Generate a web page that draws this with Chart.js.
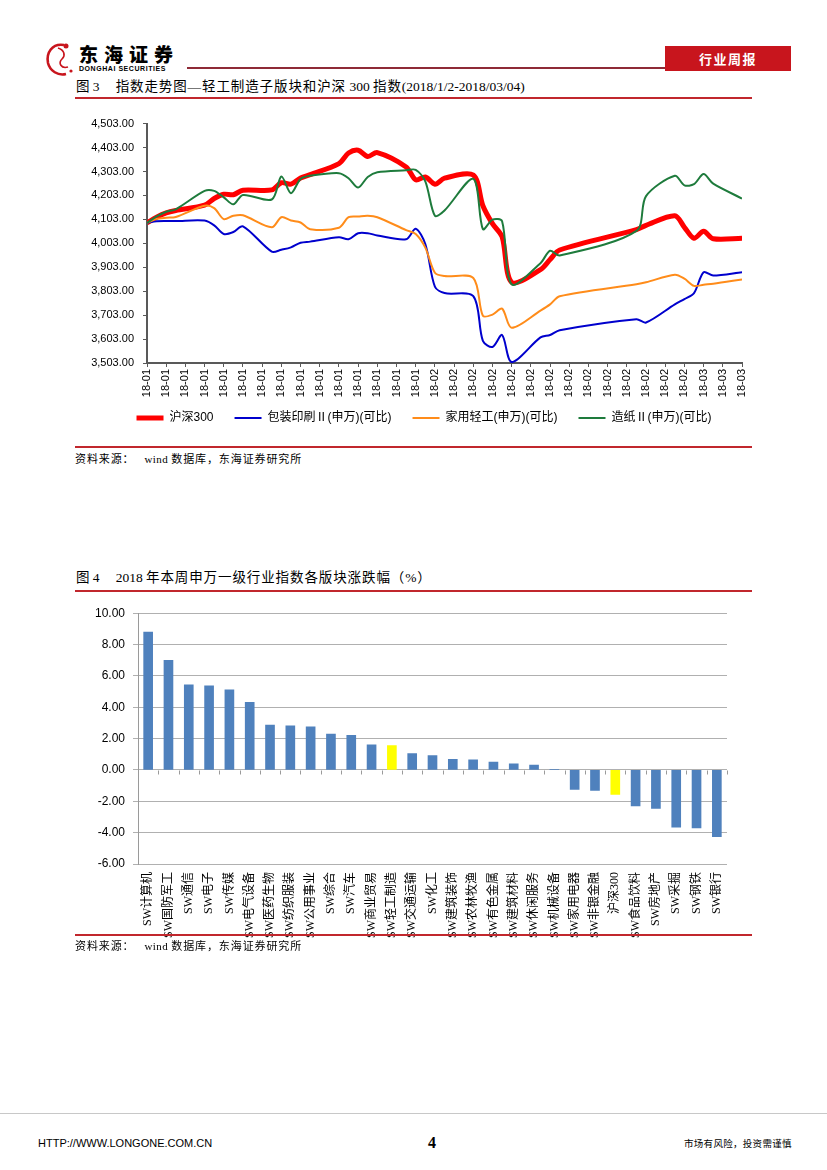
<!DOCTYPE html>
<html><head><meta charset="utf-8">
<script src="https://cdn.jsdelivr.net/npm/chart.js@4.4.1/dist/chart.umd.min.js"></script>
<style>
html,body{margin:0;padding:0;background:#fff;}
body{width:827px;height:1170px;position:relative;overflow:hidden;font-family:"Liberation Serif","Noto Sans CJK SC",serif;color:#000;}
.abs{position:absolute;white-space:nowrap;line-height:1;}
.cjk{letter-spacing:0.9px;}
.title{font-size:13.5px;}
.src{font-size:11px;letter-spacing:0.4px;}
.redline{position:absolute;left:75px;width:677px;height:2px;background:#C1272D;}
</style></head><body>

<svg class="abs" style="left:44px;top:41px" width="34" height="36" viewBox="0 0 34 36">
<path d="M20 4 C8 2 2 12 4 22 C6 30 14 35 22 33" fill="none" stroke="#C8151D" stroke-width="2.6"/>
<path d="M14 7 C20 9 22 14 18 18 C14 22 17 28 24 26" fill="none" stroke="#C8151D" stroke-width="1.6"/>
<circle cx="22" cy="5" r="2.5" fill="#C8151D"/>
<circle cx="27" cy="30" r="1.6" fill="#C8151D"/>
</svg>
<div class="abs" style="left:79px;top:44px;font-family:'Noto Sans CJK SC';font-weight:900;font-size:19px;letter-spacing:6px;">东海证券</div>
<div class="abs" style="left:79px;top:65px;font-family:'Liberation Sans';font-weight:bold;font-size:7px;letter-spacing:0.55px;">DONGHAI SECURITIES</div>
<div class="abs" style="left:187px;top:67px;width:478px;height:1.5px;background:#8E2A36;"></div>
<div class="abs" style="left:665px;top:46px;width:126px;height:25px;background:#C8151D;color:#fff;font-family:'Noto Sans CJK SC';font-weight:bold;font-size:13px;line-height:25px;text-align:center;letter-spacing:1.5px;">行业周报</div>

<div class="abs title" style="left:76px;top:80px;">图 3<span class="cjk" style="margin-left:16px;">指数走势图—轻工制造子版块和沪深</span> 300 <span class="cjk">指数</span>(2018/1/2-2018/03/04)</div>
<div class="redline" style="top:97px;"></div>

<div class="abs" style="left:70px;top:108px;"><canvas id="c1" width="714" height="326" style="width:714px;height:326px;"></canvas></div>

<div class="redline" style="top:446px;"></div>
<div class="abs src" style="left:75px;top:454px;"><span class="cjk">资料来源：</span><span style="margin-left:10px;">wind <span class="cjk">数据库，东海证券研究所</span></span></div>

<div class="abs title" style="left:76px;top:571px;">图 4<span style="margin-left:16px;">2018 </span><span class="cjk">年本周申万一级行业指数各版块涨跌幅（%）</span></div>
<div class="redline" style="top:590px;"></div>

<div class="abs" style="left:60px;top:598px;"><canvas id="c2" width="690" height="340" style="width:690px;height:340px;"></canvas></div>

<div class="redline" style="top:934px;"></div>
<div class="abs src" style="left:75px;top:941px;"><span class="cjk">资料来源：</span><span style="margin-left:10px;">wind <span class="cjk">数据库，东海证券研究所</span></span></div>

<div class="abs" style="left:0;top:1113px;width:827px;height:1px;background:#C8C8C8;"></div>
<div class="abs" style="left:38px;top:1138px;font-family:'Liberation Sans Narrow','Liberation Sans';font-size:11px;">HTTP://WWW.LONGONE.COM.CN</div>
<div class="abs" style="left:428px;top:1135px;font-family:'Liberation Serif';font-weight:bold;font-size:16px;">4</div>
<div class="abs" style="left:684px;top:1139px;font-family:'Noto Sans CJK SC';font-size:9.5px;letter-spacing:0.3px;">市场有风险，投资需谨慎</div>

<script>
// ---------- Chart 1 data ----------
const tradeDates = ['2018-01-02','2018-01-03','2018-01-04','2018-01-05','2018-01-08','2018-01-09','2018-01-10','2018-01-11','2018-01-12','2018-01-15','2018-01-16','2018-01-17','2018-01-18','2018-01-19','2018-01-22','2018-01-23','2018-01-24','2018-01-25','2018-01-26','2018-01-29','2018-01-30','2018-01-31','2018-02-01','2018-02-02','2018-02-05','2018-02-06','2018-02-07','2018-02-08','2018-02-09','2018-02-12','2018-02-13','2018-02-14','2018-02-22','2018-02-23','2018-02-26','2018-02-27','2018-02-28','2018-03-01','2018-03-02','2018-03-05'];
const hs300     = [4088,4112,4130,4140,4162,4190,4208,4206,4225,4226,4256,4250,4276,4290,4336,4380,4392,4366,4382,4322,4268,4280,4250,4275,4288,4160,4085,4030,3840,3893,3935,3975,4060,4078,4118,4070,4024,4053,4022,4024];
const baozhuang = [4088,4095,4096,4096,4098,4078,4042,4050,4074,3968,3976,3986,4005,4010,4028,4020,4045,4045,4036,4020,4064,4000,3822,3795,3782,3595,3570,3620,3507,3610,3620,3640,3686,3672,3748,3770,3795,3882,3868,3882];
const jiayong   = [4088,4105,4110,4113,4160,4150,4104,4118,4120,4070,4112,4098,4090,4062,4068,4112,4115,4118,4112,4058,4042,3985,3880,3866,3858,3700,3705,3730,3650,3722,3748,3782,3832,3840,3872,3855,3825,3830,3834,3852];
const zaozhi    = [4088,4115,4135,4145,4222,4222,4195,4166,4205,4186,4282,4212,4272,4285,4296,4275,4236,4280,4300,4308,4310,4262,4118,4140,4272,4062,4102,4095,3832,3920,3972,3952,4055,4200,4285,4245,4250,4292,4252,4190];
const seriesNames = ['沪深300','包装印刷Ⅱ(申万)(可比)','家用轻工(申万)(可比)','造纸Ⅱ(申万)(可比)'];
const yTicks1 = [3503,3603,3703,3803,3903,4003,4103,4203,4303,4403,4503];

// ---------- Chart 2 data ----------
const sectors = ['SW计算机','SW国防军工','SW通信','SW电子','SW传媒','SW电气设备','SW医药生物','SW纺织服装','SW公用事业','SW综合','SW汽车','SW商业贸易','SW轻工制造','SW交通运输','SW化工','SW建筑装饰','SW农林牧渔','SW有色金属','SW建筑材料','SW休闲服务','SW机械设备','SW家用电器','SW非银金融','沪深300','SW食品饮料','SW房地产','SW采掘','SW钢铁','SW银行'];
const changes = [8.80,7.00,5.43,5.37,5.11,4.31,2.87,2.81,2.75,2.29,2.21,1.60,1.55,1.04,0.92,0.67,0.65,0.51,0.39,0.31,0.04,-1.25,-1.31,-1.56,-2.30,-2.46,-3.65,-3.70,-4.25];
const highlighted = ['SW轻工制造','沪深300'];
const yTicks2 = [-6,-4,-2,0,2,4,6,8,10];

// ---------- helpers ----------
const DAY = 86400000;
const base = Date.UTC(2018,0,2);
const dayIdx = d => Math.round((Date.parse(d + 'T00:00:00Z') - base) / DAY);
const pts = arr => arr.map((v, i) => ({x: dayIdx(tradeDates[i]), y: v}));
const lastDay = 62;
const xTickDays = [];
for (let d = 0; d <= lastDay; d += 2) xTickDays.push(d);

const sans = '"Liberation Sans","Noto Sans CJK SC",sans-serif';
Chart.defaults.font.family = sans;
Chart.defaults.color = '#000';

const mk = (label, data, color, w, order) => ({
  label, data: pts(data), borderColor: color, backgroundColor: color,
  borderWidth: w, pointRadius: 0, pointStyle: 'line', tension: 0.3, fill: false, order,
  yAxisID: 'y'
});

new Chart(document.getElementById('c1'), {
  type: 'line',
  data: {datasets: [
    mk(seriesNames[0], hs300, '#FF0000', 5, 3),
    mk(seriesNames[1], baozhuang, '#0000CD', 2, 2),
    mk(seriesNames[2], jiayong, '#FF8C1A', 2, 1),
    mk(seriesNames[3], zaozhi, '#1E7B3C', 2, 0)
  ]},
  options: {
    responsive: false, animation: false, events: [],
    layout: {padding: {left: 0, right: 0, top: 13, bottom: 0}},
    plugins: {
      tooltip: {enabled: false},
      legend: {position: 'bottom', labels: {
        usePointStyle: true, pointStyle: 'line', pointStyleWidth: 27, padding: 15,
        font: {size: 12, family: sans}, color: '#000',
        sort: (a, b) => a.datasetIndex - b.datasetIndex,
        generateLabels: chart => Chart.defaults.plugins.legend.labels.generateLabels(chart)
          .map(l => Object.assign(l, {text: l.text + '\u2002'}))
      }}
    },
    scales: {
      x: {
        type: 'linear', min: 0, max: lastDay,
        afterFit: s => { s.height = 34; },
        afterBuildTicks: s => { s.ticks = xTickDays.map(v => ({value: v})); },
        ticks: {autoSkip: false, minRotation: 90, maxRotation: 90, padding: 2,
          font: {size: 11, family: sans}, color: '#000',
          callback: v => { const d = new Date(base + v * DAY); return '18-' + String(d.getUTCMonth() + 1).padStart(2, '0'); }},
        grid: {display: true, drawOnChartArea: false, drawTicks: true, tickLength: 4, color: '#595959'},
        border: {display: true, color: '#595959', width: 2}
      },
      y: {
        position: 'left', min: 3503, max: 4503,
        afterFit: s => { s.width = 77; },
        afterBuildTicks: s => { s.ticks = yTicks1.map(v => ({value: v})); },
        ticks: {padding: 9, font: {size: 11, family: sans}, color: '#000',
          callback: v => v.toLocaleString('en-US', {minimumFractionDigits: 2, maximumFractionDigits: 2})},
        grid: {display: true, drawOnChartArea: false, drawTicks: true, tickLength: 4, color: '#595959'},
        border: {display: true, color: '#595959', width: 2}
      },
      yRightSpace: {
        type: 'linear', position: 'right', display: true, min: 0, max: 1,
        afterFit: s => { s.width = 42; },
        ticks: {display: false}, grid: {display: false}, border: {display: false}
      }
    }
  }
});

const zeroTicks = {
  id: 'zeroTicks',
  afterDatasetsDraw(chart) {
    const xs = chart.scales.x, ys = chart.scales.y, ctx = chart.ctx;
    const y0 = Math.round(ys.getPixelForValue(0)) + 0.5;
    const half = (xs.getPixelForValue(1) - xs.getPixelForValue(0)) / 2;
    ctx.save();
    ctx.strokeStyle = '#9A9A9A'; ctx.lineWidth = 1;
    ctx.beginPath();
    for (let i = 0; i <= sectors.length; i++) {
      const px = Math.round(xs.getPixelForValue(i) - half) + 0.5;
      ctx.moveTo(px, y0); ctx.lineTo(px, y0 + 4);
    }
    ctx.stroke();
    ctx.restore();
  }
};

new Chart(document.getElementById('c2'), {
  type: 'bar',
  data: {labels: sectors, datasets: [{
    data: changes,
    backgroundColor: sectors.map(s => highlighted.includes(s) ? '#FFFF00' : '#4F81BD'),
    barThickness: 9, borderWidth: 0
  }]},
  plugins: [zeroTicks],
  options: {
    responsive: false, animation: false, events: [],
    layout: {padding: {left: 0, right: 23, top: 10, bottom: 0}},
    plugins: {legend: {display: false}, tooltip: {enabled: false}},
    scales: {
      x: {
        offset: true,
        afterFit: s => { s.height = 74; },
        ticks: {autoSkip: false, minRotation: 90, maxRotation: 90, padding: 8,
          font: {size: 12, family: '"Liberation Serif","Noto Sans CJK SC",serif'}, color: '#000'},
        grid: {display: false, drawTicks: false},
        border: {display: false}
      },
      y: {
        min: -6, max: 10,
        afterFit: s => { s.width = 78; },
        afterBuildTicks: s => { s.ticks = yTicks2.map(v => ({value: v})); },
        ticks: {padding: 8, font: {size: 12, family: sans}, color: '#000', callback: v => v.toFixed(2)},
        grid: {color: '#B0B0B0', tickLength: 5, drawTicks: true},
        border: {display: true, color: '#9A9A9A', width: 1}
      }
    }
  }
});
</script>
</body></html>
